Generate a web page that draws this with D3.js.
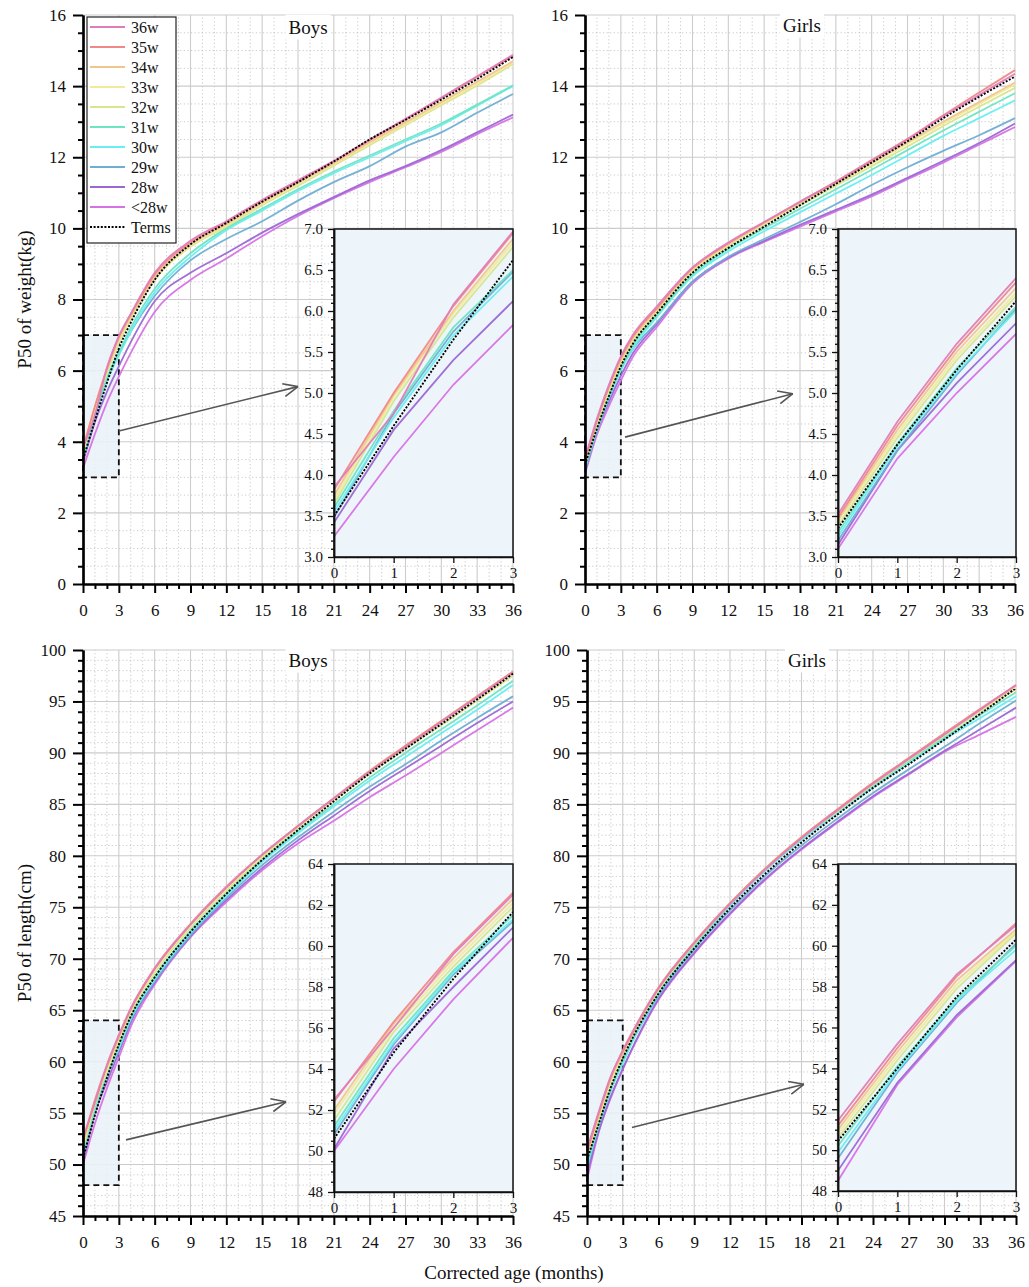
<!DOCTYPE html>
<html><head><meta charset="utf-8">
<script src="https://cdn.jsdelivr.net/npm/d3@7"></script>
<style>
body{margin:0;background:#fff}
svg{display:block}
text{font-family:"Liberation Serif","Times New Roman",Times,serif;fill:#111}
</style>
</head><body>
<svg id="c" width="1029" height="1287"></svg>
<script>
// ---------------- DATA ----------------
const months = [0,1,2,3,4,6,9,12,15,18,21,24,27,30,33,36];
const groups = ["36w","35w","34w","33w","32w","31w","30w","29w","28w","<28w"];
const groupColors = ["#e27cb8","#f08888","#f1c58e","#f1ea98","#d5e68c","#6ee4c2","#68eef2","#6eaed4","#9a68d4","#d672e6"];

const boysWeightTerms = [3.5,4.6,5.65,6.62,7.35,8.55,9.55,10.15,10.75,11.3,11.88,12.5,13.05,13.62,14.2,14.82];
const boysWeight = [
  [3.85,4.75,6.08,6.97,7.6,8.75,9.65,10.2,10.8,11.35,11.9,12.5,13.08,13.68,14.28,14.88],
  [3.82,5.0,6.06,6.95,7.58,8.7,9.6,10.18,10.78,11.32,11.88,12.48,13.06,13.66,14.26,14.85],
  [3.75,4.98,6.0,6.88,7.52,8.62,9.55,10.12,10.72,11.28,11.83,12.42,12.98,13.55,14.12,14.7],
  [3.7,4.95,5.97,6.83,7.48,8.58,9.5,10.08,10.68,11.25,11.8,12.38,12.93,13.5,14.06,14.65],
  [3.65,4.9,5.92,6.78,7.44,8.55,9.48,10.05,10.65,11.2,11.76,12.34,12.9,13.46,14.02,14.62],
  [3.6,4.78,5.8,6.5,7.2,8.3,9.3,10.0,10.55,11.1,11.6,12.05,12.5,12.95,13.48,14.02],
  [3.55,4.7,5.7,6.42,7.1,8.2,9.2,9.95,10.5,11.05,11.55,12.0,12.45,12.9,13.45,14.0],
  [3.48,4.75,5.75,6.48,7.1,8.1,9.1,9.7,10.2,10.78,11.3,11.75,12.3,12.7,13.25,13.78],
  [3.42,4.55,5.4,6.12,6.8,7.95,8.75,9.3,9.88,10.4,10.88,11.35,11.75,12.2,12.7,13.2],
  [3.25,4.22,5.1,5.83,6.5,7.65,8.55,9.15,9.78,10.35,10.85,11.3,11.72,12.15,12.65,13.12]
];

const girlsWeightTerms = [3.35,4.37,5.28,6.12,6.75,7.6,8.75,9.45,10.05,10.65,11.25,11.85,12.45,13.1,13.7,14.27];
const girlsWeight = [
  [3.52,4.65,5.6,6.4,7.0,7.8,8.9,9.6,10.18,10.75,11.3,11.9,12.5,13.15,13.75,14.35],
  [3.48,4.6,5.55,6.35,6.95,7.75,8.88,9.58,10.17,10.75,11.32,11.92,12.52,13.18,13.82,14.45],
  [3.45,4.55,5.5,6.28,6.9,7.7,8.85,9.55,10.15,10.72,11.28,11.85,12.42,13.0,13.55,14.1],
  [3.42,4.5,5.45,6.22,6.85,7.68,8.82,9.52,10.12,10.7,11.25,11.82,12.38,12.95,13.5,14.05],
  [3.38,4.45,5.4,6.18,6.8,7.62,8.78,9.5,10.1,10.65,11.2,11.75,12.3,12.88,13.42,13.95],
  [3.3,4.38,5.3,6.05,6.7,7.55,8.7,9.42,10.0,10.55,11.1,11.65,12.2,12.75,13.28,13.8],
  [3.25,4.35,5.25,6.0,6.62,7.5,8.65,9.35,9.92,10.45,10.98,11.5,12.05,12.6,13.1,13.6],
  [3.2,4.3,5.22,6.03,6.6,7.35,8.5,9.2,9.7,10.18,10.68,11.22,11.72,12.18,12.62,13.1],
  [3.15,4.3,5.12,5.85,6.48,7.3,8.5,9.18,9.65,10.1,10.52,10.95,11.42,11.9,12.4,12.95],
  [3.1,4.2,5.0,5.72,6.38,7.22,8.45,9.15,9.62,10.05,10.48,10.9,11.38,11.85,12.35,12.85]
];

const boysLengthTerms = [50.6,54.8,58.4,61.66,64.4,68.2,72.6,76.3,79.6,82.5,85.3,88.0,90.4,92.8,95.2,97.7];
const boysLength = [
  [52.5,56.0,59.6,62.5,65.1,69.0,73.3,76.9,80.1,82.9,85.6,88.2,90.6,93.0,95.4,97.8],
  [52.4,56.3,59.7,62.6,65.2,69.1,73.4,77.0,80.1,82.9,85.6,88.2,90.7,93.1,95.5,97.9],
  [52.0,56.2,59.4,62.3,65.0,69.0,73.3,76.9,80.1,82.9,85.6,88.3,90.7,93.1,95.5,97.9],
  [51.8,56.0,59.2,62.1,64.9,68.8,73.2,76.8,80.0,82.8,85.5,88.2,90.6,93.0,95.4,97.8],
  [51.5,55.8,59.0,61.9,64.7,68.6,73.0,76.6,79.8,82.7,85.4,88.0,90.4,92.7,95.1,97.5],
  [51.2,55.5,58.8,61.5,64.4,68.2,72.7,76.3,79.6,82.4,85.0,87.6,90.0,92.3,94.6,97.0],
  [51.0,55.3,58.7,61.3,64.2,68.0,72.5,76.1,79.4,82.2,84.8,87.3,89.6,91.9,94.2,96.6],
  [50.8,55.2,58.6,61.2,64.0,67.8,72.3,75.9,79.1,81.8,84.3,86.7,88.9,91.2,93.4,95.5],
  [50.1,55.0,58.0,60.9,63.8,67.7,72.2,75.7,78.8,81.5,83.9,86.3,88.5,90.7,92.9,95.0],
  [50.0,54.0,57.4,60.4,63.4,67.5,72.1,75.5,78.6,81.2,83.4,85.7,87.8,90.0,92.2,94.4]
];

const girlsLengthTerms = [50.45,54.0,57.5,60.3,62.7,66.6,71.0,74.9,78.3,81.3,84.0,86.6,88.9,91.3,93.8,96.3];
const girlsLength = [
  [51.45,55.2,58.6,61.0,63.2,67.1,71.5,75.3,78.7,81.7,84.4,87.0,89.4,91.8,94.2,96.6],
  [51.2,55.0,58.5,61.1,63.3,67.2,71.6,75.4,78.8,81.8,84.5,87.1,89.5,91.9,94.3,96.55],
  [51.0,54.8,58.3,60.8,63.1,67.1,71.6,75.4,78.8,81.8,84.5,87.1,89.5,91.9,94.2,96.6],
  [50.8,54.6,58.1,60.7,63.0,67.0,71.5,75.4,78.8,81.8,84.4,87.0,89.4,91.8,94.1,96.4],
  [50.6,54.4,57.9,60.6,62.9,66.9,71.4,75.3,78.8,81.7,84.3,86.9,89.3,91.7,94.0,96.2],
  [50.2,54.1,57.4,60.0,62.6,66.8,71.3,75.3,78.8,81.7,84.3,86.8,89.2,91.5,93.7,95.9],
  [49.9,53.9,57.3,59.8,62.4,66.6,71.1,75.1,78.6,81.5,84.1,86.6,89.0,91.3,93.4,95.5],
  [49.6,53.8,57.2,60.1,62.4,66.4,70.9,74.7,78.1,81.0,83.6,86.1,88.4,90.6,92.9,95.1],
  [49.0,53.3,56.6,59.3,61.8,66.1,70.6,74.4,77.8,80.7,83.3,85.8,88.0,90.2,92.3,94.4],
  [48.5,53.2,56.5,59.25,61.7,66.0,70.5,74.3,77.7,80.6,83.2,85.7,87.9,90.1,91.8,93.5]
];

const xTickLabels = [0,3,6,9,12,15,18,21,24,27,30,33,36];
const insetXTickLabels = [0,1,2,3];
const weightTickLabels = [0,2,4,6,8,10,12,14,16];
const lengthTickLabels = [45,50,55,60,65,70,75,80,85,90,95,100];
const insetWeightTickLabels = [3.0,3.5,4.0,4.5,5.0,5.5,6.0,6.5,7.0];
const insetLengthTickLabels = [48,50,52,54,56,58,60,62,64];

// ---------------- LAYOUT ----------------
const panels = [
  {title:"Boys", series:boysWeight, terms:boysWeightTerms, yDomain:[0,16], yTicks:weightTickLabels, yMinor:0.5,
   x0:83, x1:513, yTop:15, yBot:584, titleX:308, titleY:27, yTitle:"P50 of weight(kg)",
   inset:{l:334,r:513,t:229,b:557,yDomain:[3,7],yTicks:insetWeightTickLabels,yMinor:0.1,fmt:d3.format(".1f")},
   box:[0,3,3,7], arrow:[[3,4.3],[18,5.55]], legend:true},
  {title:"Girls", series:girlsWeight, terms:girlsWeightTerms, yDomain:[0,16], yTicks:weightTickLabels, yMinor:0.5,
   x0:585, x1:1015, yTop:15, yBot:584, titleX:802, titleY:25,
   inset:{l:838,r:1016,t:229,b:557,yDomain:[3,7],yTicks:insetWeightTickLabels,yMinor:0.1,fmt:d3.format(".1f")},
   box:[0,3,3,7], arrow:[[3.35,4.13],[17.4,5.35]]},
  {title:"Boys", series:boysLength, terms:boysLengthTerms, yDomain:[45,100], yTicks:lengthTickLabels, yMinor:1,
   x0:83, x1:513, yTop:650, yBot:1216, titleX:308, titleY:660, yTitle:"P50 of length(cm)",
   inset:{l:334,r:513,t:864,b:1192,yDomain:[48,64],yTicks:insetLengthTickLabels,yMinor:0.5,fmt:d3.format("d")},
   box:[0,3,48,64], arrow:[[3.6,52.4],[17,56.1]]},
  {title:"Girls", series:girlsLength, terms:girlsLengthTerms, yDomain:[45,100], yTicks:lengthTickLabels, yMinor:1,
   x0:587, x1:1016, yTop:650, yBot:1216, titleX:807, titleY:660,
   inset:{l:838,r:1016,t:864,b:1191,yDomain:[48,64],yTicks:insetLengthTickLabels,yMinor:0.5,fmt:d3.format("d")},
   box:[0,3,48,64], arrow:[[3.77,53.6],[18.2,57.8]]}
];

const svg = d3.select("#c");
const defs = svg.append("defs");
const isMult = (v, s) => Math.abs(v/s - Math.round(v/s)) < 1e-6;
const FONT = "Liberation Serif, Times New Roman, serif";

panels.forEach((p, pi) => {
  const x = d3.scaleLinear().domain([0,36]).range([p.x0, p.x1]);
  const y = d3.scaleLinear().domain(p.yDomain).range([p.yBot, p.yTop]);
  const g = svg.append("g");
  const majorStep = p.yTicks[1]-p.yTicks[0];

  // minor grid (dotted)
  const nMin = Math.round((p.yDomain[1]-p.yDomain[0])/p.yMinor);
  const yMinorVals = d3.range(0, nMin+1).map(i => p.yDomain[0] + i*p.yMinor).filter(v => !isMult(v - p.yDomain[0], majorStep));
  const xMinorVals = d3.range(1,37).filter(v => v % 3 !== 0);
  g.append("g").selectAll("line").data(xMinorVals).join("line")
    .attr("x1", d=>x(d)).attr("x2", d=>x(d)).attr("y1", p.yBot).attr("y2", p.yTop)
    .attr("stroke","#bdbdbd").attr("stroke-width",0.8).attr("stroke-dasharray","1.2,2.4");
  g.append("g").selectAll("line").data(yMinorVals).join("line")
    .attr("x1", p.x0).attr("x2", p.x1).attr("y1", d=>y(d)).attr("y2", d=>y(d))
    .attr("stroke","#bdbdbd").attr("stroke-width",0.8).attr("stroke-dasharray","1.2,2.4");
  // major grid
  g.append("g").selectAll("line").data(xTickLabels.slice(1)).join("line")
    .attr("x1", d=>x(d)).attr("x2", d=>x(d)).attr("y1", p.yBot).attr("y2", p.yTop)
    .attr("stroke","#cccccc").attr("stroke-width",1.1);
  g.append("g").selectAll("line").data(p.yTicks.slice(1)).join("line")
    .attr("x1", p.x0).attr("x2", p.x1).attr("y1", d=>y(d)).attr("y2", d=>y(d))
    .attr("stroke","#cccccc").attr("stroke-width",1.1);

  // title with white background
  const tt = g.append("text").attr("x", p.titleX).attr("y", p.titleY).attr("dy","0.35em")
    .attr("text-anchor","middle").attr("font-size",19).text(p.title);
  const bb = tt.node().getBBox();
  g.insert("rect", "text").attr("x", bb.x-3).attr("y", bb.y-2).attr("width", bb.width+6).attr("height", bb.height+4).attr("fill","#fff");

  // zoom box
  g.append("rect").attr("x", x(p.box[0])).attr("y", y(p.box[3]))
    .attr("width", x(p.box[1])-x(p.box[0])).attr("height", y(p.box[2])-y(p.box[3]))
    .attr("fill","#e9f2f8").attr("fill-opacity",0.85)
    .attr("stroke","#111").attr("stroke-width",1.8).attr("stroke-dasharray","6,4");

  // main curves
  const line = d3.line().x((d,i)=>x(months[i])).y(d=>y(d)).curve(d3.curveMonotoneX);
  const order = d3.range(groups.length).reverse();
  g.append("g").selectAll("path").data(order).join("path")
    .attr("d", i => line(p.series[i])).attr("fill","none")
    .attr("stroke", i => groupColors[i]).attr("stroke-width",1.8).attr("stroke-opacity",0.95);
  g.append("path").attr("d", line(p.terms)).attr("fill","none")
    .attr("stroke","#000").attr("stroke-width",1.9).attr("stroke-dasharray","2,1.6");

  // arrow
  const [a0, a1] = p.arrow;
  const ax0 = x(a0[0]), ay0 = y(a0[1]), ax1 = x(a1[0]), ay1 = y(a1[1]);
  const ang = Math.atan2(ay1-ay0, ax1-ax0);
  g.append("line").attr("x1",ax0).attr("y1",ay0).attr("x2",ax1).attr("y2",ay1)
    .attr("stroke","#555").attr("stroke-width",1.6);
  [0.42,-0.42].forEach(da => {
    g.append("line").attr("x1",ax1).attr("y1",ay1)
      .attr("x2", ax1 - 16*Math.cos(ang+da)).attr("y2", ay1 - 16*Math.sin(ang+da))
      .attr("stroke","#555").attr("stroke-width",1.6);
  });

  // axes
  const yAxis = d3.axisLeft(y).tickValues(p.yTicks).tickSize(10).tickPadding(7).tickSizeOuter(0);
  const yAxisMinor = d3.axisLeft(y).tickValues(yMinorVals).tickSize(5).tickFormat("").tickSizeOuter(0);
  const xAxis = d3.axisBottom(x).tickValues(xTickLabels).tickSize(9).tickPadding(11).tickSizeOuter(0);
  const xAxisMinor = d3.axisBottom(x).tickValues(xMinorVals).tickSize(5).tickFormat("").tickSizeOuter(0);
  [yAxisMinor, yAxis].forEach(ax => {
    const a = g.append("g").attr("transform",`translate(${p.x0},0)`).call(ax);
    a.select(".domain").attr("stroke","#000").attr("stroke-width",2.2);
    a.selectAll(".tick line").attr("stroke","#000").attr("stroke-width",2);
    a.selectAll("text").attr("font-size",17).attr("fill","#111").attr("font-family",FONT);
  });
  [xAxisMinor, xAxis].forEach(ax => {
    const a = g.append("g").attr("transform",`translate(0,${p.yBot})`).call(ax);
    a.select(".domain").attr("stroke","#000").attr("stroke-width",2.2);
    a.selectAll(".tick line").attr("stroke","#000").attr("stroke-width",2);
    a.selectAll("text").attr("font-size",17).attr("fill","#111").attr("font-family",FONT);
  });

  if (p.yTitle) {
    const cy = (p.yTop + p.yBot)/2;
    g.append("text").attr("transform",`translate(24,${cy}) rotate(-90)`).attr("text-anchor","middle")
      .attr("dy","0.35em").attr("font-size",19).text(p.yTitle);
  }

  // inset
  const ins = p.inset;
  const ix = d3.scaleLinear().domain([0,3]).range([ins.l, ins.r]);
  const iy = d3.scaleLinear().domain(ins.yDomain).range([ins.b, ins.t]);
  const ig = svg.append("g");
  const cid = "clip"+pi;
  defs.append("clipPath").attr("id",cid).append("rect")
    .attr("x",ins.l).attr("y",ins.t).attr("width",ins.r-ins.l).attr("height",ins.b-ins.t);
  ig.append("rect").attr("x",ins.l).attr("y",ins.t).attr("width",ins.r-ins.l).attr("height",ins.b-ins.t)
    .attr("fill","#eef5fa");
  const iline = d3.line().x((d,i)=>ix(months[i])).y(d=>iy(d));
  const cl = ig.append("g").attr("clip-path",`url(#${cid})`);
  cl.selectAll("path.s").data(order).join("path").attr("class","s")
    .attr("d", i => iline(p.series[i].slice(0,4))).attr("fill","none")
    .attr("stroke", i => groupColors[i]).attr("stroke-width",1.8).attr("stroke-opacity",0.95);
  cl.append("path").attr("d", iline(p.terms.slice(0,4))).attr("fill","none")
    .attr("stroke","#000").attr("stroke-width",1.9).attr("stroke-dasharray","2,1.6");
  ig.append("rect").attr("x",ins.l).attr("y",ins.t).attr("width",ins.r-ins.l).attr("height",ins.b-ins.t)
    .attr("fill","none").attr("stroke","#111").attr("stroke-width",1.5);
  const nI = Math.round((ins.yDomain[1]-ins.yDomain[0])/ins.yMinor);
  const iStep = ins.yTicks[1]-ins.yTicks[0];
  const iyMinor = d3.range(0,nI+1).map(i=>ins.yDomain[0]+i*ins.yMinor).filter(v=>!isMult(v-ins.yDomain[0], iStep));
  const iyAxis = d3.axisLeft(iy).tickValues(ins.yTicks).tickSize(6).tickPadding(5).tickFormat(ins.fmt).tickSizeOuter(0);
  const iyAxisMinor = d3.axisLeft(iy).tickValues(iyMinor).tickSize(3).tickFormat("").tickSizeOuter(0);
  const ixAxis = d3.axisBottom(ix).tickValues(insetXTickLabels).tickSize(6).tickPadding(4)
    .tickFormat(d3.format("d")).tickSizeOuter(0);
  [iyAxisMinor, iyAxis].forEach(ax => {
    const a = ig.append("g").attr("transform",`translate(${ins.l},0)`).call(ax);
    a.select(".domain").attr("stroke","#111").attr("stroke-width",1.5);
    a.selectAll(".tick line").attr("stroke","#111").attr("stroke-width",1.3);
    a.selectAll("text").attr("font-size",15).attr("fill","#222").attr("font-family",FONT);
  });
  {
    const a = ig.append("g").attr("transform",`translate(0,${ins.b})`).call(ixAxis);
    a.select(".domain").attr("stroke","#111").attr("stroke-width",1.5);
    a.selectAll(".tick line").attr("stroke","#111").attr("stroke-width",1.3);
    a.selectAll("text").attr("font-size",15).attr("fill","#222").attr("font-family",FONT);
  }

  // legend
  if (p.legend) {
    const lg = svg.append("g");
    lg.append("rect").attr("x",87).attr("y",17).attr("width",89).attr("height",226)
      .attr("fill","#fff").attr("stroke","#222").attr("stroke-width",1.2);
    const items = groups.map((gname,i)=>({name:gname, color:groupColors[i], dash:null}))
      .concat([{name:"Terms", color:"#000", dash:"2,1.6"}]);
    items.forEach((it,i) => {
      const yy = 27 + 20*i;
      lg.append("line").attr("x1",90).attr("x2",125).attr("y1",yy).attr("y2",yy)
        .attr("stroke",it.color).attr("stroke-width",it.dash?1.9:1.8).attr("stroke-dasharray",it.dash);
      lg.append("text").attr("x",131).attr("y",yy).attr("dy","0.35em").attr("font-size",16).text(it.name);
    });
  }
});

svg.append("text").attr("x",514).attr("y",1272).attr("dy","0.35em").attr("text-anchor","middle")
  .attr("font-size",19).text("Corrected age (months)");
</script>
</body></html>
